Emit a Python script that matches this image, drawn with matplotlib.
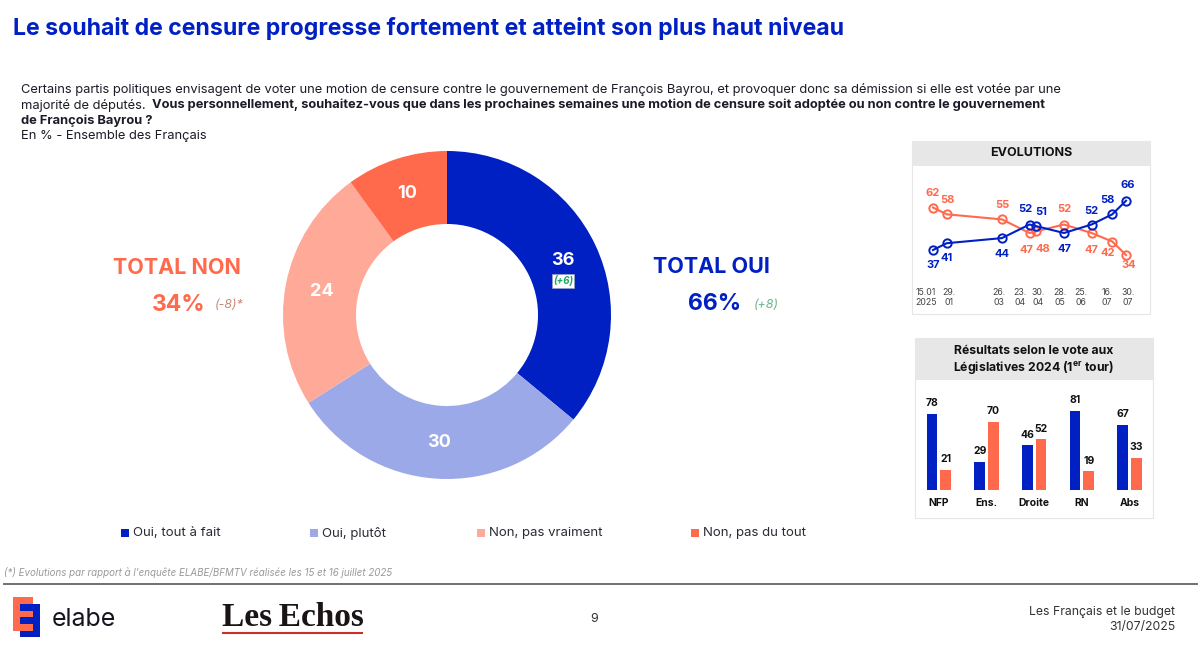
import matplotlib
matplotlib.use("Agg")
import matplotlib.pyplot as plt
from matplotlib.patches import Rectangle
import numpy as np

W, H = 1200, 645
BLUE = "#0020C4"
LIGHT_BLUE = "#9BA9E9"
LIGHT_ORANGE = "#FFA999"
ORANGE = "#FF6A4D"
DARK = "#1c1c28"

SHARE_LABELS = ["Oui, tout à fait", "Oui, plutôt", "Non, pas vraiment", "Non, pas du tout"]
SHARE_VALUES = [36, 30, 24, 10]

EVO_DAYS = [0, 14, 70, 98, 105, 133, 161, 182, 196]
EVO_TICKS = ["15.01\n2025", "29.\n01", "26.\n03", "23.\n04", "30.\n04", "28.\n05", "25.\n06", "16.\n07", "30.\n07"]
EVO_OUI = [37, 41, 44, 52, 51, 47, 52, 58, 66]
EVO_NON = [62, 58, 55, 47, 48, 52, 47, 42, 34]

VOTE_GROUPS = ["NFP", "Ens.", "Droite", "RN", "Abs"]
VOTE_OUI = [78, 29, 46, 81, 67]
VOTE_NON = [21, 70, 52, 19, 33]

plt.rcParams["font.family"] = ["Inter", "DejaVu Sans"]
fig = plt.figure(figsize=(W / 100, H / 100), dpi=100, facecolor="white")


def px_axes(x0, y0, x1, y1, z):
    # axes placed in reference pixels, y going down
    ax = fig.add_axes([x0 / W, 1 - y1 / H, (x1 - x0) / W, (y1 - y0) / H], zorder=z)
    ax.patch.set_alpha(0)
    return ax


# page layer in pixels
page = px_axes(0, 0, W, H, 2)
page.set_xlim(0, W)
page.set_ylim(H, 0)
page.axis("off")

page.text(13, 29, "Le souhait de censure progresse fortement et atteint son plus haut niveau",
          color=BLUE, fontsize=16.6, fontweight="bold", va="center")


def mixed_line(x, y, parts, size=9.3):
    r = fig.canvas.get_renderer()
    for txt, weight in parts:
        t = page.text(x, y, txt, fontsize=size, fontweight=weight, color=DARK, va="center")
        x += t.get_window_extent(r).width + (3 if txt.endswith(" ") else 0)


mixed_line(21, 90, [("Certains partis politiques envisagent de voter une motion de censure contre le gouvernement de François Bayrou, et provoquer donc sa démission si elle est votée par une", "normal")])
mixed_line(21, 105, [("majorité de députés. ", "normal"), ("Vous personnellement, souhaitez-vous que dans les prochaines semaines une motion de censure soit adoptée ou non contre le gouvernement", "bold")])
mixed_line(21, 121, [("de François Bayrou ?", "bold")])
mixed_line(21, 136, [("En % - Ensemble des Français", "normal")])

# donut
donut = px_axes(447 - 164, 315 - 164, 447 + 164, 315 + 164, 1)
wedges, _, pct = donut.pie(SHARE_VALUES, colors=[BLUE, LIGHT_BLUE, LIGHT_ORANGE, ORANGE],
                           startangle=90, counterclock=False, radius=1, autopct=lambda p: f"{p:.0f}",
                           pctdistance=0.78, wedgeprops=dict(width=0.445),
                           textprops=dict(color="white", fontsize=13, fontweight="bold"))
donut.set_xlim(-1, 1)
donut.set_ylim(-1, 1)

page.text(563, 281, "(+6)", fontsize=7, style="italic", fontweight="bold", color="#1FA860", ha="center", va="center",
          bbox=dict(fc="white", ec="#9aa0c8", lw=0.5, pad=1))

page.text(711, 267, "TOTAL OUI", color=BLUE, fontsize=15.5, fontweight="bold", ha="center", va="center")
page.text(715, 304, "66%", color=BLUE, fontsize=16.5, fontweight="bold", ha="center", va="center")
page.text(766, 305, "(+8)", color="#6DB58C", fontsize=9, style="italic", ha="center", va="center")
page.text(177, 268, "TOTAL NON", color=ORANGE, fontsize=15.5, fontweight="bold", ha="center", va="center")
page.text(179, 305, "34%", color=ORANGE, fontsize=16.5, fontweight="bold", ha="center", va="center")
page.text(229, 305, "(-8)*", color="#C9897A", fontsize=9, style="italic", ha="center", va="center")

# legend
for x, lab, col in zip([125, 314, 481, 695], SHARE_LABELS, [BLUE, LIGHT_BLUE, LIGHT_ORANGE, ORANGE]):
    page.add_patch(Rectangle((x - 4, 529), 8, 8, fc=col, ec="none"))
    page.text(x + 8, 533, lab, fontsize=9.5, color="#2a2a35", va="center")

# footer
page.text(4, 573, "(*) Evolutions par rapport à l'enquête ELABE/BFMTV réalisée les 15 et 16 juillet 2025",
          fontsize=7, style="italic", color="#9a9a9a", va="center")
page.plot([4, 1197], [584, 584], color="#707070", lw=1.4)
page.text(594, 619, "9", fontsize=9, color="#333333", ha="center", va="center")
page.text(1175, 612, "Les Français et le budget", fontsize=8.8, color="#333333", ha="right", va="center")
page.text(1175, 627, "31/07/2025", fontsize=8.8, color="#333333", ha="right", va="center")

# elabe logo, interleaved orange and blue tongues
for y0, y1 in [(597, 604), (611, 617), (624, 631)]:
    page.add_patch(Rectangle((13, y0), 20, y1 - y0, fc=ORANGE, ec="none"))
page.add_patch(Rectangle((13, 597), 7, 34, fc=ORANGE, ec="none"))
for y0, y1 in [(604, 611), (617, 624), (631, 637)]:
    page.add_patch(Rectangle((20, y0), 20, y1 - y0, fc=BLUE, ec="none"))
page.add_patch(Rectangle((33, 604), 7, 33, fc=BLUE, ec="none"))
page.text(52, 619, "elabe", fontsize=18, color="#15151f", va="center")
page.text(222, 617, "Les\u2009Echos", fontsize=24, family="Liberation Serif", fontweight="bold", color="#1a1414", va="center")
page.plot([223, 362], [633, 633], color="#C8322B", lw=1.5)

# card backgrounds
for x0, y0, x1, y1, head in [(912, 141, 1150, 314, 166), (915, 338, 1153, 518, 380)]:
    page.add_patch(Rectangle((x0, y0), x1 - x0, y1 - y0, fc="white", ec="#e6e6e6", lw=0.8))
    page.add_patch(Rectangle((x0, y0), x1 - x0, head - y0, fc="#e7e7e7", ec="none"))
page.text(1031, 153, "EVOLUTIONS", fontsize=9, fontweight="bold", color="#111111", ha="center", va="center")
page.text(1034, 351, "Résultats selon le vote aux", fontsize=8.8, fontweight="bold", color="#111111", ha="center", va="center")
page.text(1034, 367.5, "Législatives 2024 (1$^{\\mathregular{er}}$ tour)", fontsize=8.8, fontweight="bold", color="#111111", ha="center", va="center")

# evolutions
evo = px_axes(915, 170, 1145, 280, 3)
evo.set_xlim((915 - 933) / 0.985, (1145 - 933) / 0.985)
evo.set_ylim(37 - 30 / 1.7, 37 + 80 / 1.7)
evo.axis("off")
for vals, col in [(EVO_NON, ORANGE), (EVO_OUI, BLUE)]:
    evo.plot(EVO_DAYS, vals, color=col, lw=1.5, marker="o", ms=6, mfc="none", mew=1.4)

oui_off = [(0, -15), (0, -15), (0, -16), (-4, 16), (5, 14), (0, -16), (0, 14), (-5, 14), (2, 16)]
non_off = [(0, 15), (1, 14), (0, 14), (-3, -17), (6, -18), (0, 15), (0, -17), (-5, -12), (3, -10)]
for d, v, off in zip(EVO_DAYS, EVO_OUI, oui_off):
    evo.annotate(str(v), (d, v), xytext=off, textcoords="offset pixels", color=BLUE, fontsize=8,
                 fontweight="bold", ha="center", va="center")
for d, v, off in zip(EVO_DAYS, EVO_NON, non_off):
    evo.annotate(str(v), (d, v), xytext=off, textcoords="offset pixels", color=ORANGE, fontsize=8,
                 fontweight="bold", ha="center", va="center")

tick_px = [926, 949, 999, 1020, 1038, 1060, 1081, 1107, 1128]
for x, lab in zip(tick_px, EVO_TICKS):
    page.text(x, 297.5, lab, fontsize=6.3, color="#444444", ha="center", va="center", linespacing=1.25)

# vote bars
bars = px_axes(915, 385, 1153, 515, 3)
x = np.arange(len(VOTE_GROUPS))
bars.set_xlim(-(932 - 915) / 47.7, (1153 - 932) / 47.7)
bars.set_ylim(-25 / 0.975, 105 / 0.975)
bars.axis("off")
off = 6.8 / 47.7
wd = 10.7 / 47.7
b1 = bars.bar(x, VOTE_OUI, wd, color=BLUE)
b2 = bars.bar(x + 2 * off, VOTE_NON, wd, color=ORANGE)
bars.bar_label(b1, padding=4, fontsize=7.5, fontweight="bold", color="#111111")
bars.bar_label(b2, padding=4, fontsize=7.5, fontweight="bold", color="#111111")
for xi, g in zip(x, VOTE_GROUPS):
    bars.text(xi + off, -13.5, g, fontsize=7.5, fontweight="bold", color="#111111", ha="center", va="center")

fig.savefig("out.png", dpi=100, facecolor="white")
